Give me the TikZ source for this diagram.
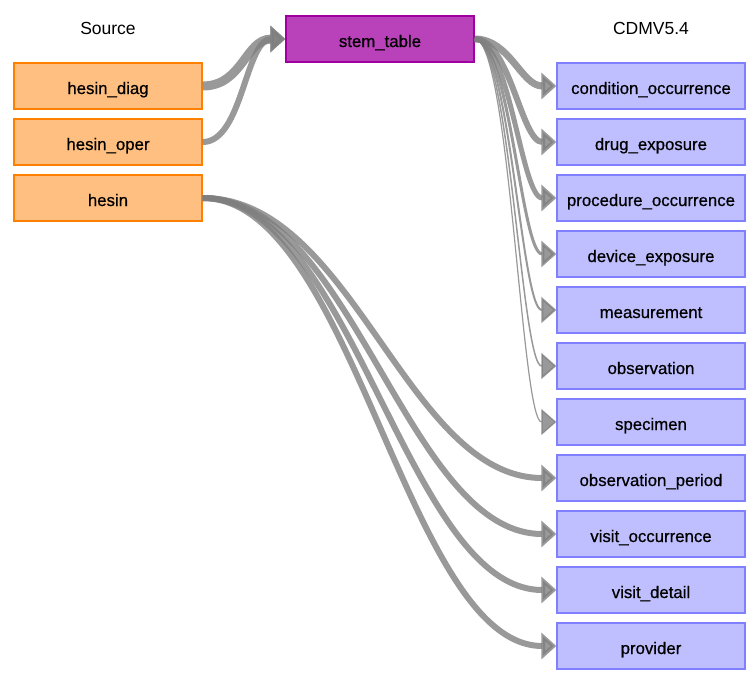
\documentclass[tikz,border=0pt]{standalone}
\usepackage{fontspec}
\setmainfont{Liberation Sans}
\newfontface\boxfont{Liberation Sans}[FakeBold=0.6]
\usetikzlibrary{arrows.meta}
\definecolor{srcfill}{HTML}{FFBF80}
\definecolor{srcdraw}{HTML}{FF8000}
\definecolor{stemfill}{HTML}{B941B9}
\definecolor{stemdraw}{HTML}{A000A0}
\definecolor{cdmfill}{HTML}{BFBFFF}
\definecolor{cdmdraw}{HTML}{8080FF}
\definecolor{edgecol}{HTML}{7F7F7F}
\tikzset{
  tbl/.style={rectangle, minimum width=188pt, minimum height=46pt, inner sep=0pt,
    line width=1.4pt, font=\boxfont\fontsize{16.8}{20}\selectfont, text height=16pt, text depth=0pt},
  srcbox/.style={tbl, fill=srcfill, draw=srcdraw},
  stembox/.style={tbl, fill=stemfill, draw=stemdraw},
  cdmbox/.style={tbl, fill=cdmfill, draw=cdmdraw},
  hdr/.style={font=\fontsize{17.5}{20}\selectfont, inner sep=0pt},
  flow/.style={draw=edgecol, opacity=0.8,
    -{Triangle[length=15pt,width=26pt,fill=edgecol]}},
}
\begin{document}
\begin{tikzpicture}[x=1pt,y=-1pt]
\useasboundingbox (0,0) rectangle (755,680);
\node[hdr] (hsrc) at (108,28) {Source};
\node[hdr] (hcdm) at (651,28) {CDMV5.4};
\node[srcbox] (hd) at (108,86) {hesin\_diag};
\node[srcbox] (ho) at (108,142) {hesin\_oper};
\node[srcbox] (hs) at (108,198) {hesin};
\node[stembox] (st) at (380,39) {stem\_table};
\node[cdmbox] (co) at (651,86) {condition\_occurrence};
\node[cdmbox] (de) at (651,142) {drug\_exposure};
\node[cdmbox] (po) at (651,198) {procedure\_occurrence};
\node[cdmbox] (dv) at (651,254) {device\_exposure};
\node[cdmbox] (me) at (651,310) {measurement};
\node[cdmbox] (ob) at (651,366) {observation};
\node[cdmbox] (sp) at (651,422) {specimen};
\node[cdmbox] (op) at (651,478) {observation\_period};
\node[cdmbox] (vo) at (651,534) {visit\_occurrence};
\node[cdmbox] (vd) at (651,590) {visit\_detail};
\node[cdmbox] (pr) at (651,646) {provider};
% source -> stem_table
\draw[flow, line width=9pt] (hd.east) .. controls +(40,0) and +(-40,0) .. (st.west);
\draw[flow, line width=6pt] (ho.east) .. controls +(40,0) and +(-40,0) .. (st.west);
% stem_table -> cdm
\draw[flow, line width=7pt] (st.east) .. controls +(35,0) and +(-35,0) .. (co.west);
\draw[flow, line width=6pt] (st.east) .. controls +(35,0) and +(-35,0) .. (de.west);
\draw[flow, line width=5pt] (st.east) .. controls +(35,0) and +(-35,0) .. (po.west);
\draw[flow, line width=3pt] (st.east) .. controls +(35,0) and +(-35,0) .. (dv.west);
\draw[flow, line width=2pt] (st.east) .. controls +(35,0) and +(-35,0) .. (me.west);
\draw[flow, line width=1.5pt] (st.east) .. controls +(35,0) and +(-35,0) .. (ob.west);
\draw[flow, line width=1.2pt] (st.east) .. controls +(35,0) and +(-35,0) .. (sp.west);
% hesin -> cdm
\draw[flow, line width=6pt] (hs.east) .. controls +(150,0) and +(-150,0) .. (op.west);
\draw[flow, line width=6pt] (hs.east) .. controls +(150,0) and +(-150,0) .. (vo.west);
\draw[flow, line width=6pt] (hs.east) .. controls +(150,0) and +(-150,0) .. (vd.west);
\draw[flow, line width=6pt] (hs.east) .. controls +(150,0) and +(-150,0) .. (pr.west);
\end{tikzpicture}
\end{document}
